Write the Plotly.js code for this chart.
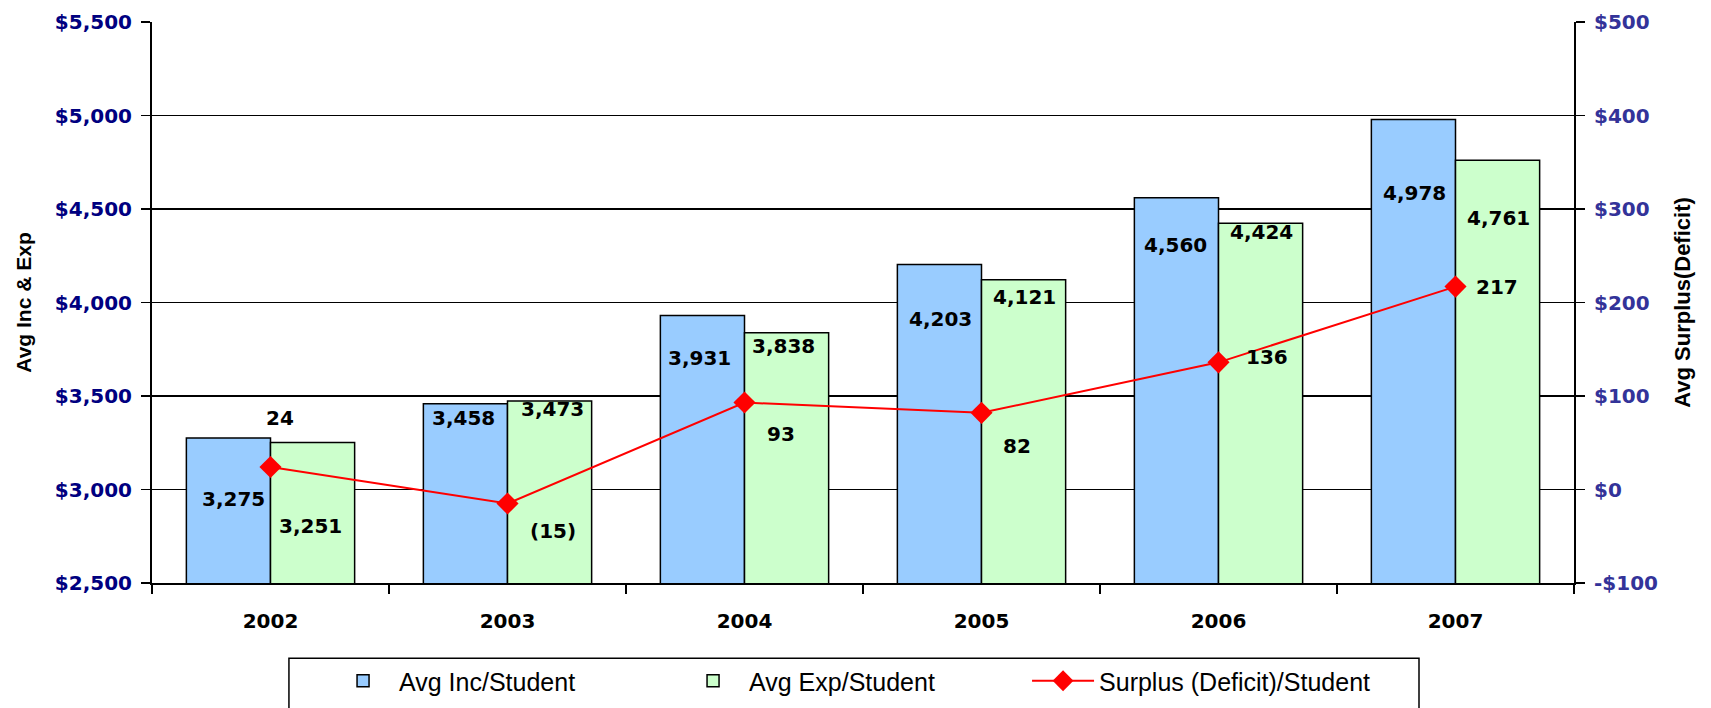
<!DOCTYPE html>
<html>
<head>
<meta charset="utf-8">
<script src="https://cdn.plot.ly/plotly-3.0.1.min.js"></script>
<style>html,body{margin:0;padding:0;background:#fff;}#chart{width:1711px;height:708px;}</style>
</head>
<body>
<div id="chart"></div>
<script>
// ---- data ----
const years = ["2002", "2003", "2004", "2005", "2006", "2007"];
const avgIncome = [3275, 3458, 3931, 4203, 4560, 4978];
const avgExpense = [3251, 3473, 3838, 4121, 4424, 4761];
const surplus = [24, -15, 93, 82, 136, 217];
const seriesNames = ["Avg Inc/Student", "Avg Exp/Student", "Surplus (Deficit)/Student"];
const surplusTickVals = [-100, 0, 100, 200, 300, 400, 500];
const surplusTickText = ["-$100", "$0", "$100", "$200", "$300", "$400", "$500"];

// ---- label placement offsets (pixels, style only) ----
const incLabelShift = {x: [-37, -44, -45, -41, -43, -41], y: [-61, -14, -43, -54, -47, -73]};
const expLabelShift = {x: [40, 45, 39, 43, 43, 43], y: [-83, -8, -13, -17, -9, -58]};
const surLabelShift = {x: [9, 45, 36, 35, 48, 41], y: [49, -27, -31, -33, 5, 0]};

const fmtNum = v => v.toLocaleString("en-US");
const fmtSur = v => v < 0 ? "(" + Math.abs(v) + ")" : String(v);

const boldFont = "DejaVu Sans, Liberation Sans, Arial, sans-serif";
const titleFont = "Liberation Sans, Arial, sans-serif";

const traces = [
  {type: "bar", name: seriesNames[0], x: years, y: avgIncome,
   marker: {color: "#99CCFF", line: {color: "#000000", width: 1.5}}},
  {type: "bar", name: seriesNames[1], x: years, y: avgExpense,
   marker: {color: "#CCFFCC", line: {color: "#000000", width: 1.5}}},
  {type: "scatter", mode: "lines+markers", name: seriesNames[2], x: years, y: surplus, yaxis: "y2",
   line: {color: "#FF0000", width: 2}, marker: {symbol: "diamond", size: 17, color: "#FF0000"}}
];

const annotations = [];
const labelFont = {family: boldFont, size: 20, color: "#000000", weight: "bold"};
years.forEach((yr, i) => {
  annotations.push({x: i, y: avgIncome[i], xref: "x", yref: "y", text: "<b>" + fmtNum(avgIncome[i]) + "</b>",
    showarrow: false, xshift: incLabelShift.x[i], yshift: incLabelShift.y[i], font: labelFont});
  annotations.push({x: i, y: avgExpense[i], xref: "x", yref: "y", text: "<b>" + fmtNum(avgExpense[i]) + "</b>",
    showarrow: false, xshift: expLabelShift.x[i], yshift: expLabelShift.y[i], font: labelFont});
  annotations.push({x: i, y: surplus[i], xref: "x", yref: "y2", text: "<b>" + fmtSur(surplus[i]) + "</b>",
    showarrow: false, xshift: surLabelShift.x[i], yshift: surLabelShift.y[i], font: labelFont});
});

const layout = {
  width: 1711, height: 708,
  margin: {l: 152, r: 137, t: 22, b: 125, autoexpand: false},
  paper_bgcolor: "#ffffff", plot_bgcolor: "#ffffff",
  barmode: "group", bargap: 0.29, bargroupgap: 0,
  showlegend: true,
  hovermode: false,
  xaxis: {
    type: "category", range: [-0.5, 5.5], showline: true, linecolor: "#000000", linewidth: 2,
    ticks: "outside", tickson: "boundaries", ticklen: 9, tickcolor: "#000000", tickwidth: 1.5,
    showgrid: false, ticklabelstandoff: 19, tickangle: 0, automargin: false,
    tickfont: {family: boldFont, size: 20, color: "#000000", weight: "bold"}
  },
  yaxis: {
    range: [2500, 5500], dtick: 500, tickformat: "$,d",
    showline: true, linecolor: "#000000", linewidth: 2, mirror: false,
    ticks: "outside", ticklen: 9, tickcolor: "#000000", tickwidth: 1.5,
    showgrid: true, gridcolor: "#000000", gridwidth: 1.5, zeroline: false,
    ticklabelstandoff: 5, automargin: false,
    tickfont: {family: boldFont, size: 20, color: "#000080", weight: "bold"},
    title: {text: "<b>Avg Inc & Exp</b>", font: {family: titleFont, size: 21, color: "#000000"}, standoff: 17}
  },
  yaxis2: {
    overlaying: "y", side: "right", range: [-100, 500],
    tickmode: "array", tickvals: surplusTickVals, ticktext: surplusTickText,
    showline: true, linecolor: "#000000", linewidth: 2,
    ticks: "outside", ticklen: 9, tickcolor: "#000000", tickwidth: 1.5,
    showgrid: false, zeroline: false, ticklabelstandoff: 5, automargin: false,
    tickfont: {family: boldFont, size: 20, color: "#333399", weight: "bold"},
    title: {text: "<b>Avg Surplus(Deficit)</b>", font: {family: titleFont, size: 22, color: "#000000"}, standoff: 18}
  },
  legend: {
    orientation: "h", x: 0.1231, xanchor: "left", yref: "container", y: 0.0706, yanchor: "top",
    borderwidth: 0, bgcolor: "rgba(0,0,0,0)",
    itemwidth: 62, entrywidth: 273, entrywidthmode: "pixels", traceorder: "normal",
    font: {family: "Liberation Sans, Arial, sans-serif", size: 25, color: "#000000"}
  },
  shapes: [
    {type: "rect", xref: "paper", yref: "paper", x0: 0.0963, x1: 0.891, y0: -0.1342, y1: -0.2305,
     line: {color: "#000000", width: 1.5}, fillcolor: "rgba(0,0,0,0)", layer: "above"}
  ],
  annotations: annotations
};

Plotly.newPlot("chart", traces, layout, {displayModeBar: false, staticPlot: true});
</script>
</body>
</html>
